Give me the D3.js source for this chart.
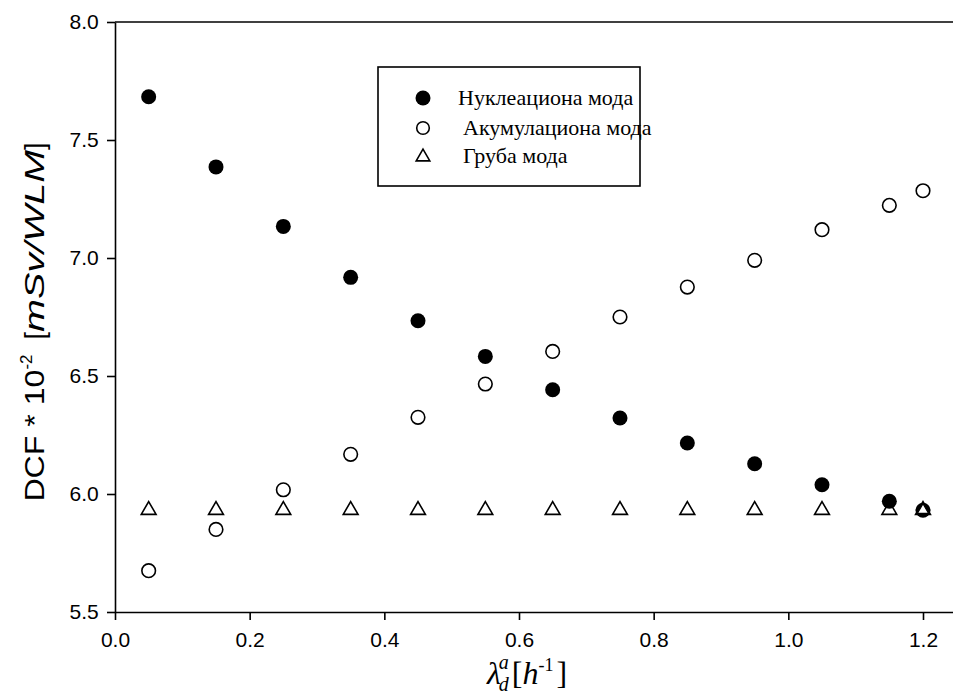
<!DOCTYPE html>
<html>
<head>
<meta charset="utf-8">
<script src="https://cdn.jsdelivr.net/npm/d3@7"></script>
<style>
  body { margin: 0; background: #fff; }
  svg { display: block; }
  .axis path, .axis line { stroke: #000; stroke-width: 1.6px; }
</style>
</head>
<body>
<div id="chart"></div>
<script>
// data
var lambdaX = [0.05, 0.15, 0.25, 0.35, 0.45, 0.55, 0.65, 0.75, 0.85, 0.95, 1.05, 1.15, 1.2];
var nucleation = [7.683, 7.386, 7.134, 6.918, 6.734, 6.583, 6.442, 6.322, 6.216, 6.128, 6.039, 5.969, 5.931];
var accumulation = [5.675, 5.85, 6.018, 6.168, 6.325, 6.466, 6.604, 6.75, 6.877, 6.99, 7.12, 7.223, 7.285];
var coarse = [5.936, 5.936, 5.936, 5.936, 5.936, 5.936, 5.936, 5.936, 5.936, 5.936, 5.936, 5.936, 5.936];
var xTicks = [0.0, 0.2, 0.4, 0.6, 0.8, 1.0, 1.2];
var yTicks = [5.5, 6.0, 6.5, 7.0, 7.5, 8.0];
var legendNames = ['Нуклеациона мода', 'Акумулациона мода', 'Груба мода'];

var W = 953, H = 700;
var margin = {top: 22, right: 0, bottom: 88, left: 115};
var width = W - margin.left - margin.right,
    height = H - margin.top - margin.bottom;

var x = d3.scaleLinear().domain([0, 1.25]).range([0, 1.25 * 808 / 1.2]);
var y = d3.scaleLinear().domain([5.5, 8.0]).range([height, 0]);

var svg = d3.select('#chart').append('svg')
  .attr('width', W)
  .attr('height', H)
  .append('g')
  .attr('transform', 'translate(' + margin.left + ',' + margin.top + ')');

// top frame line
svg.append('line')
  .attr('x1', 0).attr('x2', width + 5)
  .attr('y1', y(8.0)).attr('y2', y(8.0))
  .attr('stroke', '#000').attr('stroke-width', 1.6);

var sans = '"Liberation Sans", Arial, sans-serif';
var serif = '"Liberation Serif", "Times New Roman", serif';

// x-axis
svg.append('g')
  .attr('class', 'x-axis axis')
  .attr('transform', 'translate(0,' + height + ')')
  .call(d3.axisBottom(x).tickValues(xTicks).tickFormat(d3.format('.1f')).tickSize(8).tickSizeOuter(0))
  .selectAll('text')
  .attr('dy', '1.15em')
  .style('font-family', sans).style('font-size', '21px').style('fill', '#000');

// y-axis
svg.append('g')
  .attr('class', 'y-axis axis')
  .call(d3.axisLeft(y).tickValues(yTicks).tickFormat(d3.format('.1f')).tickSize(8).tickSizeOuter(0))
  .selectAll('text')
  .attr('dx', '-0.25em')
  .style('font-family', sans).style('font-size', '21px').style('fill', '#000');

// y label
var yl = svg.append('text')
  .attr('transform', 'translate(-71,' + 300 + ') rotate(-90)')
  .style('text-anchor', 'middle')
  .style('font-family', sans)
  .style('font-size', '27px');
yl.append('tspan').attr('textLength', 132).attr('lengthAdjust', 'spacingAndGlyphs').text('DCF * 10');
yl.append('tspan').attr('dy', '-12').style('font-size', '17px').text('-2');
yl.append('tspan').attr('dy', '12').text('\u00a0 [');
yl.append('tspan').style('font-style', 'italic').attr('textLength', 182).attr('lengthAdjust', 'spacingAndGlyphs').text('mSv/WLM');
yl.append('tspan').text(']');

// x label
var xl = svg.append('text')
  .attr('x', 372)
  .attr('y', height + 72)
  .style('font-family', serif)
  .style('font-size', '32px');
xl.append('tspan').style('font-style', 'italic').text('\u03bb');
xl.append('tspan').attr('dy', '7').attr('dx', '-2').style('font-style', 'italic').style('font-size', '20px').text('d');
xl.append('tspan').attr('dy', '-22').attr('dx', '-10').style('font-style', 'italic').style('font-size', '20px').text('a');
xl.append('tspan').attr('dy', '15').attr('dx', '3').text('[');
xl.append('tspan').style('font-style', 'italic').text('h');
xl.append('tspan').attr('dy', '-13').style('font-size', '18px').text('-1');
xl.append('tspan').attr('dy', '13').attr('dx', '3').text(']');

function pts(vals) {
  return lambdaX.map(function(d, i) { return {x: d, y: vals[i]}; });
}

var tri = d3.symbol().type(d3.symbolTriangle).size(95);

// triangles (Груба мода)
svg.selectAll('.tri')
  .data(pts(coarse))
  .enter().append('path')
  .attr('class', 'tri')
  .attr('d', tri)
  .attr('transform', function(d) { return 'translate(' + x(d.x) + ',' + (y(d.y) + 1) + ')'; })
  .attr('fill', 'none').attr('stroke', '#000').attr('stroke-width', 1.6);

// open circles (Акумулациона мода)
svg.selectAll('.acc')
  .data(pts(accumulation))
  .enter().append('circle')
  .attr('class', 'acc')
  .attr('cx', function(d) { return x(d.x); })
  .attr('cy', function(d) { return y(d.y); })
  .attr('r', 6.8)
  .attr('fill', 'none').attr('stroke', '#000').attr('stroke-width', 1.6);

// filled circles (Нуклеациона мода)
svg.selectAll('.nuc')
  .data(pts(nucleation))
  .enter().append('circle')
  .attr('class', 'nuc')
  .attr('cx', function(d) { return x(d.x); })
  .attr('cy', function(d) { return y(d.y); })
  .attr('r', 7.5)
  .attr('fill', '#000');

// last triangle drawn on top of the filled circle
svg.append('path')
  .attr('d', tri)
  .attr('fill', '#fff').attr('stroke', '#000').attr('stroke-width', 1.6)
  .attr('transform', 'translate(' + x(lambdaX[12]) + ',' + (y(coarse[12]) + 1) + ') scale(0.75)');

// legend
var lg = svg.append('g').attr('transform', 'translate(' + (378 - margin.left) + ',' + (67 - margin.top) + ')');
lg.append('rect')
  .attr('width', 262).attr('height', 119)
  .attr('fill', '#fff').attr('stroke', '#000').attr('stroke-width', 1.6);
var rowY = [31, 61, 89];
lg.append('circle').attr('cx', 45).attr('cy', rowY[0]).attr('r', 7.5).attr('fill', '#000');
lg.append('circle').attr('cx', 45).attr('cy', rowY[1]).attr('r', 6.3).attr('fill', 'none').attr('stroke', '#000').attr('stroke-width', 1.6);
lg.append('path').attr('d', d3.symbol().type(d3.symbolTriangle).size(80))
  .attr('transform', 'translate(45,' + (rowY[2] + 1) + ')')
  .attr('fill', 'none').attr('stroke', '#000').attr('stroke-width', 1.6);
lg.selectAll('.lt')
  .data(legendNames)
  .enter().append('text')
  .attr('class', 'lt')
  .attr('x', function(d, i) { return i === 0 ? 80 : 85; })
  .attr('y', function(d, i) { return rowY[i] + 7; })
  .style('font-family', serif)
  .style('font-size', '22px')
  .text(function(d) { return d; });
</script>
</body>
</html>
